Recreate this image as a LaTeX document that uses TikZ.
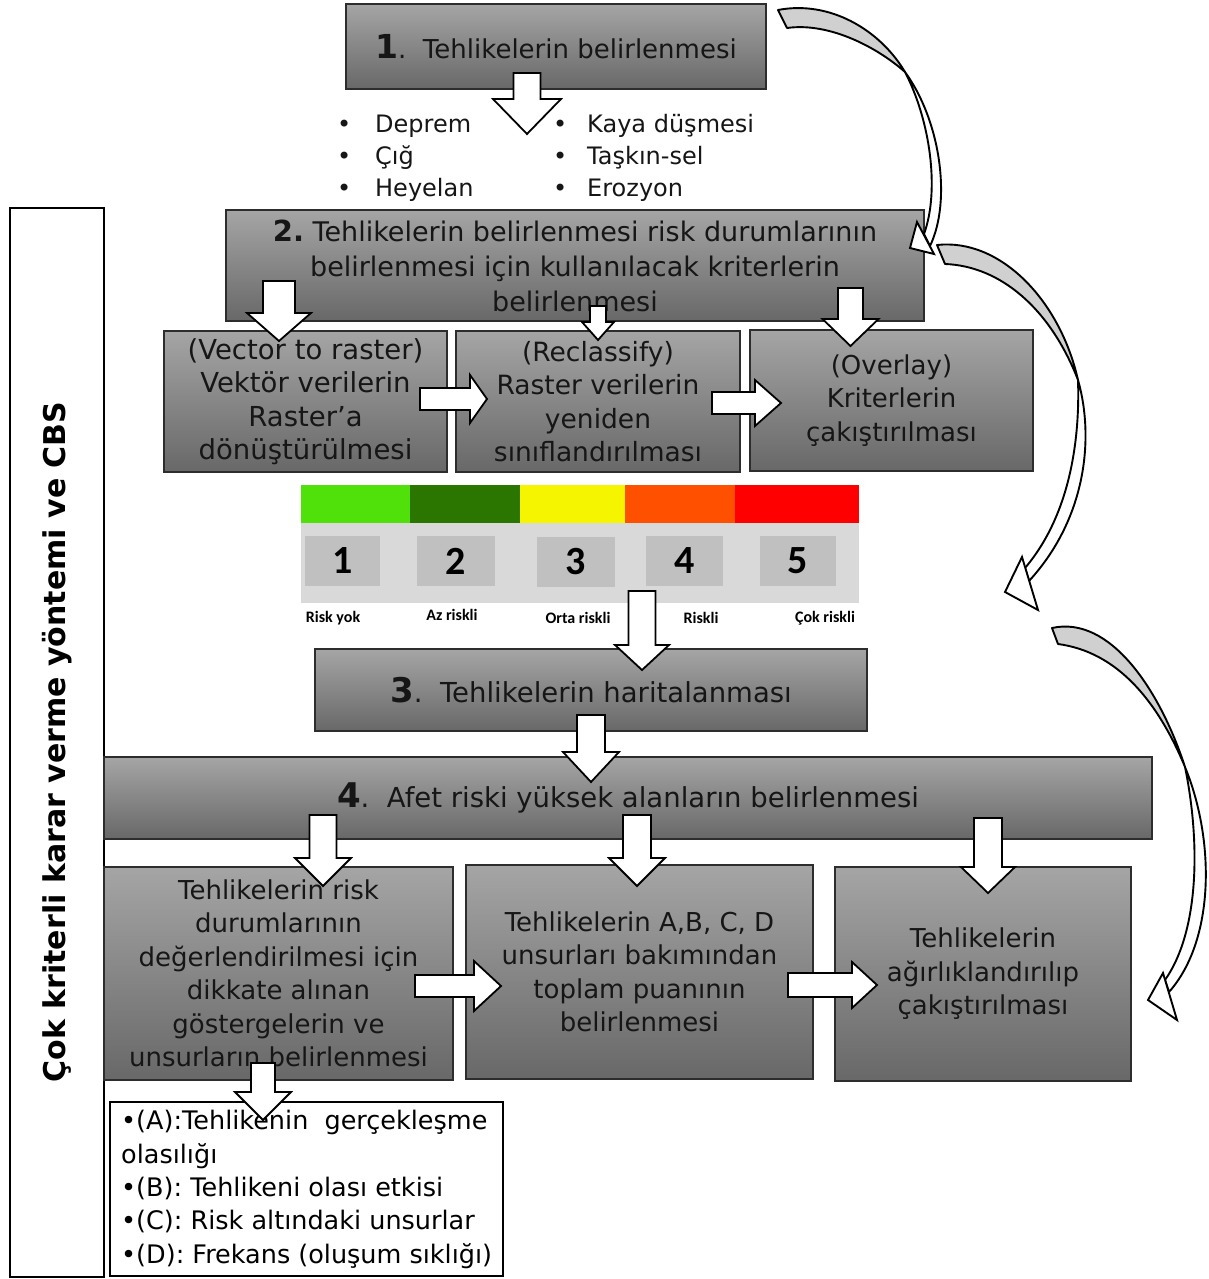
\documentclass[tikz,border=0pt]{standalone}
\usepackage{fontspec}
\setmainfont{DejaVu Sans}
\newfontfamily\carl{Carlito}
\definecolor{boxtop}{RGB}{165,165,165}
\definecolor{boxbot}{RGB}{104,104,104}
\definecolor{boxline}{RGB}{45,45,45}
\definecolor{txt}{RGB}{22,22,22}
\definecolor{cgreen}{RGB}{80,225,10}
\definecolor{cdgreen}{RGB}{42,118,0}
\definecolor{cyellow}{RGB}{245,245,0}
\definecolor{corange}{RGB}{255,80,0}
\definecolor{cred}{RGB}{255,0,0}
\definecolor{panel}{RGB}{217,217,217}
\definecolor{numbox}{RGB}{192,192,192}
\definecolor{ribbon}{RGB}{208,208,208}
\tikzset{
  gbox/.style={draw=boxline, line width=1.2pt, top color=boxtop, bottom color=boxbot,
    inner sep=0pt, align=center, text=txt, font=\fontsize{26}{33.5}\selectfont},
  blk/.style={draw=black, fill=white, line width=1.8pt, line join=miter},
  ribgray/.style={draw=black, fill=ribbon, line width=1.9pt, line join=round},
  ribwhite/.style={draw=black, fill=white, line width=1.9pt, line join=round},
  rhead/.style={draw=black, fill=white, line width=1.9pt, line join=miter},
  numsq/.style={fill=numbox, inner sep=0pt, font=\carl\bfseries\fontsize{40}{40}\selectfont, text=black},
  risklab/.style={inner sep=0pt, font=\carl\bfseries\fontsize{16}{16}\selectfont, text=black},
  bul/.style={anchor=west, align=left, inner sep=0pt, text=txt, font=\fontsize{24}{32}\selectfont},
}
% x, ytop, ybase, ytip, shaft half width, head half width
\newcommand\blkdown[6]{\draw[blk] ({#1-#5},#2) -- ({#1+#5},#2) -- ({#1+#5},#3) -- ({#1+#6},#3) -- (#1,#4) -- ({#1-#6},#3) -- ({#1-#5},#3) -- cycle;}
% y, xleft, xbase, xtip, shaft half width, head half width
\newcommand\blkright[6]{\draw[blk] (#2,{#1-#5}) -- (#3,{#1-#5}) -- (#3,{#1-#6}) -- (#4,#1) -- (#3,{#1+#6}) -- (#3,{#1+#5}) -- (#2,{#1+#5}) -- cycle;}
\begin{document}
\begin{tikzpicture}[x=1pt,y=-1pt]
\useasboundingbox (0,0) rectangle (1209,1279);
\fill[white] (0,0) rectangle (1209,1279);

% left vertical box
\node[draw=black, line width=2pt, minimum width=94pt, minimum height=1069pt, inner sep=0pt] (side) at (57,742.5) {};
\node[rotate=90, inner sep=0pt, text=black, font=\bfseries\fontsize{30}{30}\selectfont] (sidetxt) at (57,742) {Çok kriterli karar verme yöntemi ve CBS};

% step 1
\node[gbox, minimum width=420pt, minimum height=85pt] (b1) at (556,46.5)
  {{\bfseries\fontsize{33}{33}\selectfont 1}.\ \ Tehlikelerin belirlenmesi};

% hazards list
\node[bul] (hazl) at (337,158) {\makebox[38pt][l]{•}Deprem\\\makebox[38pt][l]{•}Çığ\\\makebox[38pt][l]{•}Heyelan};
\node[bul] (hazr) at (553,158) {\makebox[34pt][l]{•}Kaya düşmesi\\\makebox[34pt][l]{•}Taşkın-sel\\\makebox[34pt][l]{•}Erozyon};

% step 2
\node[gbox, minimum width=698pt, minimum height=111pt, font=\fontsize{27}{35}\selectfont] (b2) at (575,265.5)
  {{\bfseries\fontsize{29}{29}\selectfont 2.}\ Tehlikelerin belirlenmesi risk durumlarının\\belirlenmesi için kullanılacak kriterlerin\\belirlenmesi};

% three GIS steps
\node[gbox, minimum width=283pt, minimum height=141pt, font=\fontsize{27.5}{33.5}\selectfont] (v2r) at (305.5,401.5)
  {(Vector to raster)\\Vektör verilerin\\Raster’a\\dönüştürülmesi};
\node[gbox, minimum width=284pt, minimum height=141pt, font=\fontsize{26.5}{33.5}\selectfont] (recl) at (598,401.5)
  {(Reclassify)\\Raster verilerin\\yeniden\\sınıflandırılması};
\node[gbox, minimum width=283pt, minimum height=141pt] (ovl) at (891.5,400.5)
  {(Overlay)\\Kriterlerin\\çakıştırılması};

% colour scale
\fill[cgreen] (301,485) rectangle (410,523);
\fill[cdgreen] (410,485) rectangle (520,523);
\fill[cyellow] (520,485) rectangle (625,523);
\fill[corange] (625,485) rectangle (735,523);
\fill[cred] (735,485) rectangle (859,523);
\fill[panel] (301,523) rectangle (859,603);
\node[numsq, minimum width=75pt, minimum height=50pt] (n1) at (342.5,561) {1};
\node[numsq, minimum width=78pt, minimum height=50pt] (n2) at (456,561) {2};
\node[numsq, minimum width=78pt, minimum height=50pt] (n3) at (576,562) {3};
\node[numsq, minimum width=77pt, minimum height=50pt] (n4) at (684.5,561) {4};
\node[numsq, minimum width=76pt, minimum height=50pt] (n5) at (798,561) {5};
\node[risklab] (l1) at (333,618) {Risk yok};
\node[risklab] (l2) at (452,615) {Az riskli};
\node[risklab] (l3) at (578,618) {Orta riskli};
\node[risklab] (l4) at (701,618) {Riskli};
\node[risklab] (l5) at (825,618) {Çok riskli};

% step 3
\node[gbox, minimum width=552pt, minimum height=82pt, font=\fontsize{27.5}{33.5}\selectfont] (b3) at (591,690)
  {{\bfseries\fontsize{34}{34}\selectfont 3}.\ \ Tehlikelerin haritalanması};

% step 4
\node[gbox, minimum width=1048pt, minimum height=82pt, font=\fontsize{27.5}{33.5}\selectfont] (b4) at (628,798)
  {{\bfseries\fontsize{34}{34}\selectfont 4}.\ \ Afet riski yüksek alanların belirlenmesi};

% bottom three boxes
\node[gbox, minimum width=349pt, minimum height=213pt] (ind) at (278.5,973.5)
  {Tehlikelerin risk\\durumlarının\\değerlendirilmesi için\\dikkate alınan\\göstergelerin ve\\unsurların belirlenmesi};
\node[gbox, minimum width=347pt, minimum height=214pt] (score) at (639.5,972)
  {Tehlikelerin A,B, C, D\\unsurları bakımından\\toplam puanının\\belirlenmesi};
\node[gbox, minimum width=296pt, minimum height=214pt] (weight) at (983,974)
  {Tehlikelerin\\ağırlıklandırılıp\\çakıştırılması};

% list box
\node[draw=black, line width=2pt, fill=white, minimum width=393pt, minimum height=174pt, inner sep=0pt] (lst) at (306.5,1189) {};
\node[anchor=west, align=left, inner sep=0pt, text=black, font=\fontsize{25.5}{33.3}\selectfont] (lsttxt) at (121,1189.5)
  {•(A):Tehlikenin\ \ gerçekleşme\\olasılığı\\•(B): Tehlikeni olası etkisi\\•(C): Risk altındaki unsurlar\\•(D): Frekans (oluşum sıklığı)};

% block arrows
\blkdown{527}{73}{99}{134}{13.5}{34}
\blkdown{279}{281}{313}{341}{16}{32}
\blkdown{598}{306}{322}{340}{8}{16}
\blkdown{850.5}{288}{319}{346}{12.5}{28}
\blkdown{642}{591}{645}{670}{13.5}{27}
\blkdown{591}{715}{752}{782}{14}{28}
\blkdown{323}{815}{858}{886}{13.5}{28}
\blkdown{637}{815}{858}{886}{14}{28}
\blkdown{988}{818}{867}{893}{14}{27}
\blkdown{263}{1063}{1092}{1120}{12}{28}
\blkright{399}{420}{470}{487}{11}{24}
\blkright{403}{712}{755}{781}{11}{23}
\blkright{986}{415}{474}{501}{11}{25}
\blkright{985}{788}{852}{877}{12}{23}

% curved ribbon arrow 1 (step 1 -> step 2)
\draw[ribgray] (778,10) .. controls (830,0) and (880,30) .. (905,72)
  .. controls (878,48) and (830,22) .. (787,28) -- cycle;
\draw[ribwhite] (905,72) .. controls (940,120) and (952,200) .. (930,246)
  -- (924,234) .. controls (940,190) and (930,120) .. (905,72) -- cycle;
\draw[rhead] (917,222) -- (910,248) -- (934,254) -- cycle;

% curved ribbon arrow 2 (step 2 -> scale)
\draw[ribgray] (937,245) .. controls (1000,238) and (1060,300) .. (1078,380)
  .. controls (1050,308) and (1000,266) .. (945,264) -- cycle;
\draw[ribwhite] (1078,380) .. controls (1095,440) and (1085,520) .. (1029,581)
  -- (1025,568) .. controls (1070,515) and (1080,440) .. (1078,380) -- cycle;
\draw[rhead] (1022,557) -- (1005,592) -- (1038,610) -- cycle;

% curved ribbon arrow 3 (scale -> weighting)
\draw[ribgray] (1052,628) .. controls (1110,615) and (1160,690) .. (1185,767)
  .. controls (1158,702) and (1118,652) .. (1058,644) -- cycle;
\draw[ribwhite] (1185,767) .. controls (1215,840) and (1215,940) .. (1169,992)
  -- (1165,980) .. controls (1200,930) and (1200,840) .. (1185,767) -- cycle;
\draw[rhead] (1163,973) -- (1148,1000) -- (1177,1020) -- cycle;
\end{tikzpicture}
\end{document}
